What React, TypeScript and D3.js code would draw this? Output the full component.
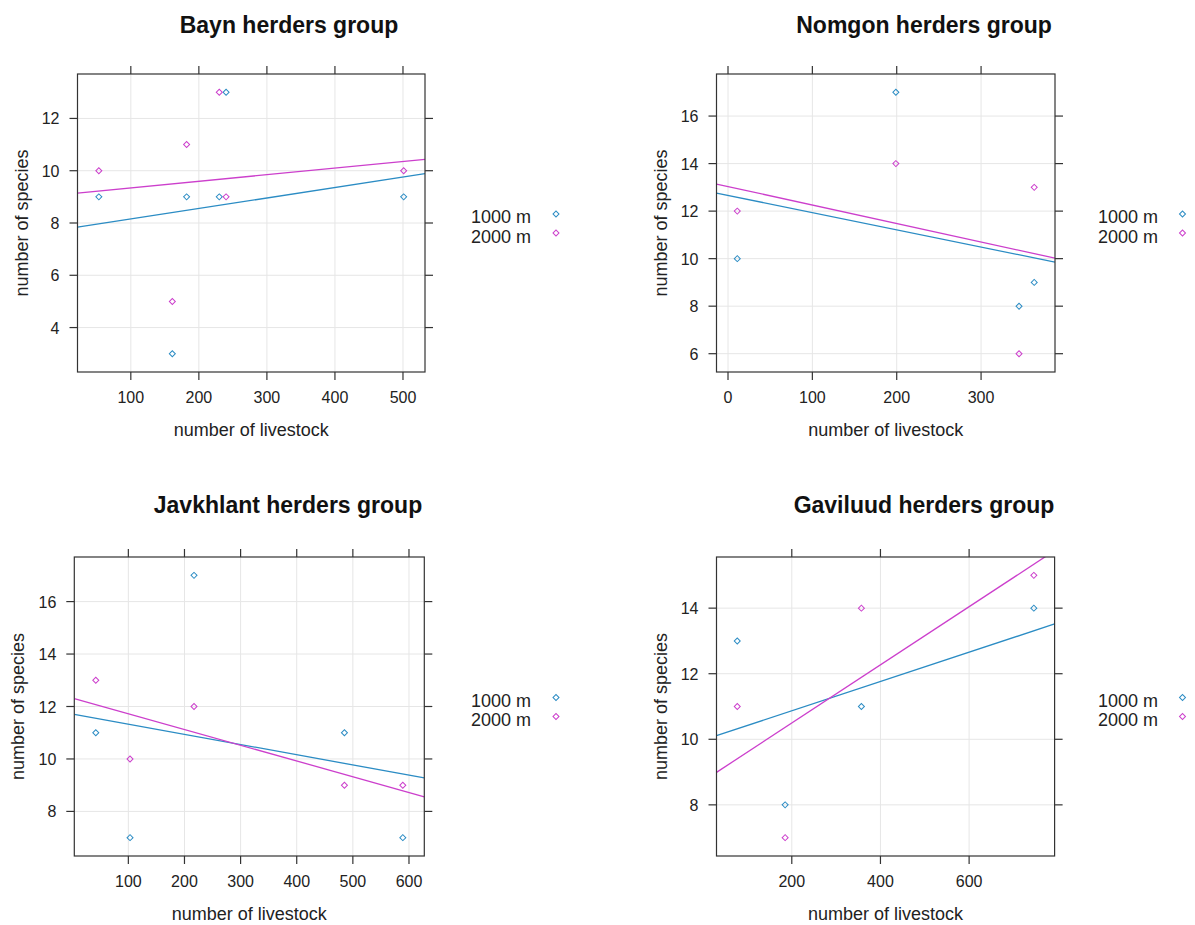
import React from 'react';
import * as d3 from 'd3';

// livestock per herder and species counts at the two elevations
const baynLivestock = [53, 161, 182, 230, 240, 501];
const bayn1000 = [9, 3, 9, 9, 13, 9];
const bayn2000 = [10, 5, 11, 13, 9, 10];

const nomgonLivestock = [11, 199, 345, 363];
const nomgon1000 = [10, 17, 8, 9];
const nomgon2000 = [12, 14, 6, 13];

const javkhlantLivestock = [42, 103, 217, 485, 589];
const javkhlant1000 = [11, 7, 17, 11, 7];
const javkhlant2000 = [13, 10, 12, 9, 9];

const gaviluudLivestock = [77, 185, 357, 746];
const gaviluud1000 = [13, 8, 11, 14];
const gaviluud2000 = [11, 7, 14, 15];

const seriesNames = ['1000 m', '2000 m'];
const seriesColors = ['#2b8cc4', '#cc3fcc'];

const baynXTicks = [100, 200, 300, 400, 500];
const baynYTicks = [4, 6, 8, 10, 12];
const nomgonXTicks = [0, 100, 200, 300];
const nomgonYTicks = [6, 8, 10, 12, 14, 16];
const javkhlantXTicks = [100, 200, 300, 400, 500, 600];
const javkhlantYTicks = [8, 10, 12, 14, 16];
const gaviluudXTicks = [200, 400, 600];
const gaviluudYTicks = [8, 10, 12, 14];

const xLabel = 'number of livestock';
const yLabel = 'number of species';

const font = '"Liberation Sans", Arial, sans-serif';

// lattice style limits: data range padded by 7% each side
function padded(values: number[]): [number, number] {
  const [lo, hi] = d3.extent(values) as [number, number];
  const p = (hi - lo) * 0.07;
  return [lo - p, hi + p];
}

function lmFit(x: number[], y: number[]) {
  const mx = d3.mean(x)!;
  const my = d3.mean(y)!;
  const sxy = d3.sum(x, (v, i) => (v - mx) * (y[i] - my));
  const sxx = d3.sum(x, (v) => (v - mx) * (v - mx));
  const b = sxy / sxx;
  return (v: number) => my + b * (v - mx);
}

const panels = [
  { id: 'bayn', title: 'Bayn herders group', x: baynLivestock, ys: [bayn1000, bayn2000],
    xTicks: baynXTicks, yTicks: baynYTicks, box: [77.5, 425, 74, 372], titleX: 289, titleY: 33, legendRight: 531, symbolX: 556 },
  { id: 'nomgon', title: 'Nomgon herders group', x: nomgonLivestock, ys: [nomgon1000, nomgon2000],
    xTicks: nomgonXTicks, yTicks: nomgonYTicks, box: [716.5, 1055, 74, 372], titleX: 924, titleY: 33, legendRight: 1158, symbolX: 1182.5 },
  { id: 'javkhlant', title: 'Javkhlant herders group', x: javkhlantLivestock, ys: [javkhlant1000, javkhlant2000],
    xTicks: javkhlantXTicks, yTicks: javkhlantYTicks, box: [74.3, 424.3, 557, 856], titleX: 288, titleY: 513, legendRight: 531, symbolX: 556 },
  { id: 'gaviluud', title: 'Gaviluud herders group', x: gaviluudLivestock, ys: [gaviluud1000, gaviluud2000],
    xTicks: gaviluudXTicks, yTicks: gaviluudYTicks, box: [716.5, 1054.6, 557, 856], titleX: 924, titleY: 513, legendRight: 1158, symbolX: 1182.5 },
];

const diamond = d3.symbol(d3.symbolSquare, 18)()!;

function Panel({ p }: { p: (typeof panels)[number] }) {
  const [x0, x1, y0, y1] = p.box;
  const xs = d3.scaleLinear().domain(padded(p.x)).range([x0, x1]);
  const ys = d3.scaleLinear().domain(padded([...p.ys[0], ...p.ys[1]])).range([y1, y0]);
  const [dx0, dx1] = xs.domain();
  const tick = 8;
  const midY = (y0 + y1) / 2;
  return (
    <g>
      <defs>
        <clipPath id={`clip-${p.id}`}>
          <rect x={x0} y={y0} width={x1 - x0} height={y1 - y0} />
        </clipPath>
      </defs>
      <text x={p.titleX} y={p.titleY} textAnchor="middle" fontSize={23} fontWeight="bold" fill="#111">{p.title}</text>
      {p.xTicks.map((t) => (
        <line key={`gx${t}`} x1={xs(t)} x2={xs(t)} y1={y0} y2={y1} stroke="#e6e6e6" />
      ))}
      {p.yTicks.map((t) => (
        <line key={`gy${t}`} x1={x0} x2={x1} y1={ys(t)} y2={ys(t)} stroke="#e6e6e6" />
      ))}
      <g clipPath={`url(#clip-${p.id})`}>
        {p.ys.map((yv, k) => {
          const f = lmFit(p.x, yv);
          const d = d3.line<number>().x((v) => xs(v)).y((v) => ys(f(v)))([dx0, dx1]);
          return <path key={`l${k}`} d={d!} fill="none" stroke={seriesColors[k]} strokeWidth={1.3} />;
        })}
      </g>
      {p.ys.map((yv, k) =>
        yv.map((v, i) => (
          <path key={`p${k}-${i}`} d={diamond} transform={`translate(${xs(p.x[i])},${ys(v)}) rotate(45)`}
            fill="none" stroke={seriesColors[k]} strokeWidth={1} />
        ))
      )}
      <rect x={x0} y={y0} width={x1 - x0} height={y1 - y0} fill="none" stroke="#333" strokeWidth={1.2} />
      {p.xTicks.map((t) => (
        <g key={`tx${t}`}>
          <line x1={xs(t)} x2={xs(t)} y1={y1} y2={y1 + tick} stroke="#333" strokeWidth={1.2} />
          <line x1={xs(t)} x2={xs(t)} y1={y0} y2={y0 - tick} stroke="#333" strokeWidth={1.2} />
          <text x={xs(t)} y={y1 + 31} textAnchor="middle" fontSize={16} fill="#222">{t}</text>
        </g>
      ))}
      {p.yTicks.map((t) => (
        <g key={`ty${t}`}>
          <line x1={x0} x2={x0 - tick} y1={ys(t)} y2={ys(t)} stroke="#333" strokeWidth={1.2} />
          <line x1={x1} x2={x1 + tick} y1={ys(t)} y2={ys(t)} stroke="#333" strokeWidth={1.2} />
          <text x={x0 - 18} y={ys(t) + 6} textAnchor="end" fontSize={16} fill="#222">{t}</text>
        </g>
      ))}
      <text x={(x0 + x1) / 2} y={y1 + 64} textAnchor="middle" fontSize={18} fill="#222">{xLabel}</text>
      <text transform={`translate(${x0 - 50},${midY}) rotate(-90)`} textAnchor="middle" fontSize={18} fill="#222">{yLabel}</text>
      {seriesNames.map((name, k) => (
        <g key={name}>
          <text x={p.legendRight} y={midY + k * 19.5} textAnchor="end" fontSize={18} fill="#222">{name}</text>
          <path d={diamond} transform={`translate(${p.symbolX},${midY - 9 + k * 19})  rotate(45)`}
            fill="none" stroke={seriesColors[k]} strokeWidth={1} />
        </g>
      ))}
    </g>
  );
}

export default function App() {
  return (
    <svg width={1195} height={925} style={{ position: 'absolute', left: 0, top: 0, background: '#fff' }}
      fontFamily={font}>
      <rect width={1195} height={925} fill="#fff" />
      {panels.map((p) => (
        <Panel key={p.id} p={p} />
      ))}
    </svg>
  );
}
